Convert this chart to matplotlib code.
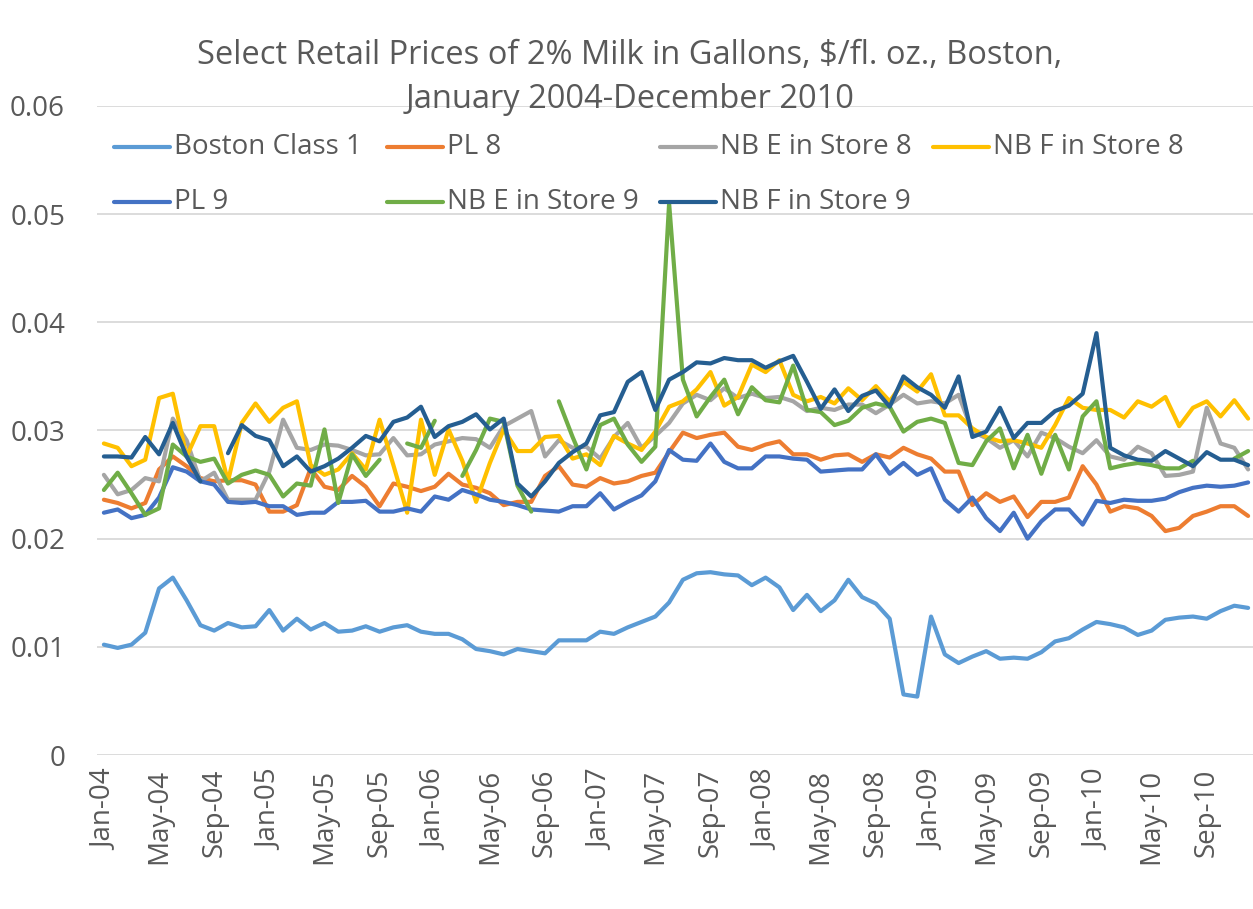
import numpy as np
import pandas as pd
import matplotlib
matplotlib.use("Agg")
import matplotlib.pyplot as plt
from matplotlib.lines import Line2D

plt.rcParams['font.family'] = ['Open Sans', 'DejaVu Sans']

nan = np.nan
months = pd.date_range('2004-01-01', periods=84, freq='MS').strftime('%b-%y').tolist()

boston_class1 = [
    0.0102, 0.0099, 0.0102, 0.0113, 0.0154, 0.0164, 0.0143, 0.0120, 0.0115, 0.0122, 0.0118, 0.0119,
    0.0134, 0.0115, 0.0126, 0.0116, 0.0122, 0.0114, 0.0115, 0.0119, 0.0114, 0.0118, 0.0120, 0.0114,
    0.0112, 0.0112, 0.0107, 0.0098, 0.0096, 0.0093, 0.0098, 0.0096, 0.0094, 0.0106, 0.0106, 0.0106,
    0.0114, 0.0112, 0.0118, 0.0123, 0.0128, 0.0141, 0.0162, 0.0168, 0.0169, 0.0167, 0.0166, 0.0157,
    0.0164, 0.0155, 0.0134, 0.0148, 0.0133, 0.0143, 0.0162, 0.0146, 0.0140, 0.0126, 0.0056, 0.0054,
    0.0128, 0.0093, 0.0085, 0.0091, 0.0096, 0.0089, 0.0090, 0.0089, 0.0095, 0.0105, 0.0108, 0.0116,
    0.0123, 0.0121, 0.0118, 0.0111, 0.0115, 0.0125, 0.0127, 0.0128, 0.0126, 0.0133, 0.0138, 0.0136]

pl8 = [
    0.0236, 0.0233, 0.0228, 0.0233, 0.0264, 0.0276, 0.0267, 0.0256, 0.0253, 0.0254, 0.0254, 0.0250,
    0.0225, 0.0225, 0.0231, 0.0265, 0.0248, 0.0245, 0.0258, 0.0248, 0.0230, 0.0251, 0.0248, 0.0244,
    0.0248, 0.0260, 0.0250, 0.0247, 0.0242, 0.0231, 0.0234, 0.0234, 0.0258, 0.0267, 0.0250, 0.0248,
    0.0256, 0.0251, 0.0253, 0.0258, 0.0261, 0.0280, 0.0298, 0.0293, 0.0296, 0.0298, 0.0285, 0.0282,
    0.0287, 0.0290, 0.0278, 0.0278, 0.0273, 0.0277, 0.0278, 0.0271, 0.0278, 0.0275, 0.0284, 0.0278,
    0.0274, 0.0262, 0.0262, 0.0231, 0.0242, 0.0234, 0.0239, 0.0220, 0.0234, 0.0234, 0.0238, 0.0267,
    0.0250, 0.0225, 0.0230, 0.0228, 0.0221, 0.0207, 0.0210, 0.0221, 0.0225, 0.0230, 0.0230, 0.0221]

nb_e_store8 = [
    0.0259, 0.0241, 0.0245, 0.0256, 0.0253, 0.0311, 0.0291, 0.0253, 0.0261, 0.0236, 0.0236, 0.0236,
    0.0262, 0.0310, 0.0284, 0.0282, 0.0287, 0.0286, 0.0282, 0.0277, 0.0278, 0.0293, 0.0277, 0.0278,
    0.0287, 0.0290, 0.0293, 0.0292, 0.0284, 0.0304, 0.0311, 0.0318, 0.0276, 0.0291, 0.0284, 0.0285,
    0.0274, 0.0294, 0.0307, 0.0284, 0.0295, 0.0307, 0.0325, 0.0333, 0.0328, 0.0339, 0.0330, 0.0334,
    0.0330, 0.0331, 0.0327, 0.0318, 0.0321, 0.0319, 0.0324, 0.0324, 0.0316, 0.0324, 0.0333, 0.0325,
    0.0327, 0.0325, 0.0333, 0.0299, 0.0293, 0.0284, 0.0291, 0.0276, 0.0298, 0.0293, 0.0285, 0.0279,
    0.0291, 0.0276, 0.0273, 0.0285, 0.0279, 0.0258, 0.0259, 0.0262, 0.0321, 0.0288, 0.0284, 0.0264]

nb_f_store8 = [
    0.0288, 0.0284, 0.0267, 0.0273, 0.0330, 0.0334, 0.0276, 0.0304, 0.0304, 0.0253, 0.0307, 0.0325,
    0.0308, 0.0321, 0.0327, 0.0268, 0.0259, 0.0264, 0.0279, 0.0264, 0.0310, 0.0268, 0.0224, 0.0310,
    0.0259, 0.0301, 0.0272, 0.0234, 0.0270, 0.0301, 0.0281, 0.0281, 0.0294, 0.0295, 0.0274, 0.0278,
    0.0268, 0.0295, 0.0288, 0.0282, 0.0299, 0.0322, 0.0327, 0.0338, 0.0354, 0.0323, 0.0331, 0.0361,
    0.0354, 0.0365, 0.0333, 0.0327, 0.0331, 0.0325, 0.0339, 0.0328, 0.0341, 0.0327, 0.0345, 0.0336,
    0.0352, 0.0314, 0.0314, 0.0302, 0.0294, 0.0290, 0.0291, 0.0288, 0.0284, 0.0305, 0.0330, 0.0321,
    0.0319, 0.0319, 0.0312, 0.0327, 0.0322, 0.0331, 0.0304, 0.0321, 0.0327, 0.0313, 0.0328, 0.0311]

pl9 = [
    0.0224, 0.0227, 0.0219, 0.0222, 0.0238, 0.0266, 0.0262, 0.0253, 0.0250, 0.0234, 0.0233, 0.0234,
    0.0230, 0.0230, 0.0222, 0.0224, 0.0224, 0.0234, 0.0234, 0.0235, 0.0225, 0.0225, 0.0228, 0.0225,
    0.0239, 0.0236, 0.0245, 0.0241, 0.0236, 0.0234, 0.0231, 0.0227, 0.0226, 0.0225, 0.0230, 0.0230,
    0.0242, 0.0227, 0.0234, 0.0240, 0.0253, 0.0282, 0.0273, 0.0272, 0.0288, 0.0271, 0.0265, 0.0265,
    0.0276, 0.0276, 0.0274, 0.0273, 0.0262, 0.0263, 0.0264, 0.0264, 0.0278, 0.0260, 0.0270, 0.0259,
    0.0265, 0.0236, 0.0225, 0.0238, 0.0219, 0.0207, 0.0224, 0.0200, 0.0216, 0.0227, 0.0227, 0.0213,
    0.0235, 0.0233, 0.0236, 0.0235, 0.0235, 0.0237, 0.0243, 0.0247, 0.0249, 0.0248, 0.0249, 0.0252]

nb_e_store9 = [
    0.0245, 0.0261, 0.0242, 0.0222, 0.0228, 0.0287, 0.0276, 0.0271, 0.0274, 0.0251, 0.0259, 0.0263,
    0.0259, 0.0239, 0.0251, 0.0249, 0.0301, 0.0233, 0.0278, 0.0258, 0.0273, nan, 0.0288, 0.0284,
    0.0309, nan, 0.0258, 0.0282, 0.0311, 0.0308, 0.0249, 0.0225, nan, 0.0327, 0.0294, 0.0264,
    0.0305, 0.0311, 0.0287, 0.0271, 0.0285, 0.0510, 0.0347, 0.0313, 0.0331, 0.0347, 0.0315, 0.0340,
    0.0328, 0.0326, 0.0360, 0.0319, 0.0317, 0.0305, 0.0309, 0.0321, 0.0325, 0.0322, 0.0299, 0.0308,
    0.0311, 0.0307, 0.0270, 0.0268, 0.0290, 0.0302, 0.0265, 0.0296, 0.0260, 0.0296, 0.0264, 0.0313,
    0.0327, 0.0265, 0.0268, 0.0270, 0.0268, 0.0265, 0.0265, 0.0272, nan, nan, 0.0274, 0.0281]

nb_f_store9 = [
    0.0276, 0.0276, 0.0275, 0.0294, 0.0278, 0.0307, 0.0276, 0.0253, nan, 0.0279, 0.0305, 0.0295,
    0.0291, 0.0267, 0.0276, 0.0262, 0.0267, 0.0274, 0.0284, 0.0295, 0.0290, 0.0308, 0.0312, 0.0322,
    0.0294, 0.0304, 0.0308, 0.0315, 0.0301, 0.0311, 0.0251, 0.0239, 0.0253, 0.0270, 0.0280, 0.0288,
    0.0314, 0.0317, 0.0345, 0.0354, 0.0319, 0.0347, 0.0354, 0.0363, 0.0362, 0.0367, 0.0365, 0.0365,
    0.0358, 0.0364, 0.0369, 0.0345, 0.0320, 0.0338, 0.0318, 0.0332, 0.0337, 0.0322, 0.0350, 0.0340,
    0.0333, 0.0321, 0.0350, 0.0294, 0.0299, 0.0321, 0.0293, 0.0307, 0.0307, 0.0318, 0.0323, 0.0334,
    0.0390, 0.0284, 0.0277, 0.0273, 0.0272, 0.0281, 0.0274, 0.0267, 0.0280, 0.0273, 0.0273, 0.0268]

series = [
    ('Boston Class 1', boston_class1, '#5B9BD5'),
    ('PL 8', pl8, '#ED7D31'),
    ('NB E in Store 8', nb_e_store8, '#A5A5A5'),
    ('NB F in Store 8', nb_f_store8, '#FFC000'),
    ('PL 9', pl9, '#4472C4'),
    ('NB E in Store 9', nb_e_store9, '#70AD47'),
    ('NB F in Store 9', nb_f_store9, '#255E91'),
]

W, H = 1253, 909
fig = plt.figure(figsize=(W / 100, H / 100), dpi=100)
ax = fig.add_axes([97 / W, (H - 755) / H, 1158 / W, (755 - 106) / H])

x = np.arange(len(months))
for name, vals, col in series:
    ax.plot(x, vals, color=col, lw=3.0, solid_joinstyle='round', solid_capstyle='round')

ax.set_xlim(-0.5, len(months) - 0.5)
ax.set_ylim(0, 0.06)
ax.set_yticks(np.arange(0, 0.061, 0.01))
ax.set_yticklabels(['0', '0.01', '0.02', '0.03', '0.04', '0.05', '0.06'])
ax.set_xticks(x[::4])
ax.set_xticklabels(months[::4], rotation=90)
ax.grid(axis='y', color='#D9D9D9', lw=1.3)
ax.set_axisbelow(True)
for s in ax.spines.values():
    s.set_visible(False)
ax.tick_params(axis='y', length=0, pad=23, labelsize=20, labelcolor='#595959')
ax.tick_params(axis='x', length=0, pad=10, labelsize=20, labelcolor='#595959')

fig.text(630 / W, 1 - 55 / H, 'Select Retail Prices of 2% Milk in Gallons, $/fl. oz., Boston,',
         ha='center', va='center', fontsize=23.5, color='#595959')
fig.text(630 / W, 1 - 99 / H, 'January 2004-December 2010',
         ha='center', va='center', fontsize=23.5, color='#595959')

# legend, two rows of four columns
leg_pos = [(114, 147), (387, 147), (660, 147), (933, 147),
           (114, 202), (387, 202), (660, 202)]
for (name, vals, col), (lx, ly) in zip(series, leg_pos):
    fig.add_artist(Line2D([lx / W, (lx + 56) / W], [1 - ly / H, 1 - ly / H],
                          color=col, lw=3.0, solid_capstyle='round'))
    fig.text((lx + 60) / W, 1 - ly / H, name, ha='left', va='center',
             fontsize=20, color='#595959')

fig.savefig('out.png', dpi=100)
